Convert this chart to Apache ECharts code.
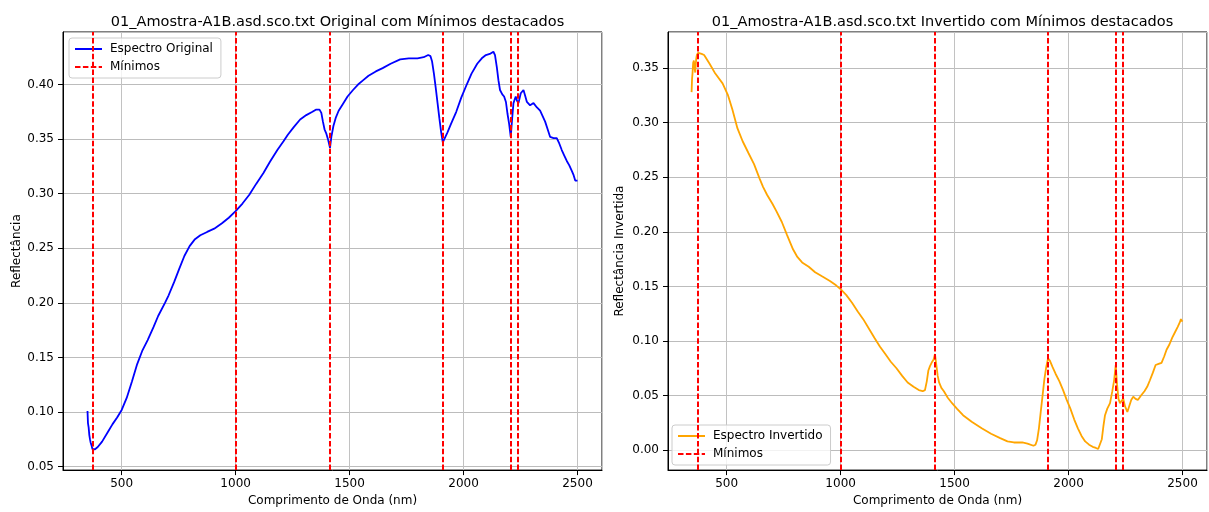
<!DOCTYPE html>
<html>
<head>
<meta charset="utf-8">
<script src="https://cdn.jsdelivr.net/npm/echarts@6/dist/echarts.min.js"></script>
<style>
  html, body { margin: 0; padding: 0; background: #fff; }
  #chart { width: 1209px; height: 512px; }
</style>
</head>
<body>
<div id="chart"></div>
<script>
// Sample spectrum: 01_Amostra-A1B.asd.sco.txt
const wavelengthOrig = [
  350, 352, 355, 358, 361, 364, 367, 372, 378, 383, 395, 414, 440, 460, 480, 500, 522, 545, 568, 590,
  614, 640, 660, 690, 706, 730, 752, 775, 798, 820, 845, 875, 906, 940, 970, 1000, 1030, 1060, 1090, 1122,
  1150, 1183, 1210, 1229, 1255, 1283, 1310, 1337, 1352, 1368, 1376, 1383, 1390, 1398, 1405, 1414, 1420, 1429, 1440, 1452,
  1470, 1491, 1515, 1537, 1560, 1583, 1615, 1645, 1680, 1722, 1760, 1798, 1825, 1845, 1855, 1862, 1870, 1878, 1886, 1894,
  1902, 1909, 1915, 1929, 1945, 1968, 1990, 2014, 2035, 2060, 2080, 2098, 2115, 2131, 2138, 2146, 2153, 2160, 2170, 2178,
  2186, 2193, 2200, 2207, 2213, 2219, 2229, 2235, 2241, 2251, 2263, 2270, 2278, 2292, 2307, 2322, 2336, 2347, 2358, 2369,
  2380, 2395, 2409, 2420, 2431, 2442, 2453, 2464, 2475, 2483, 2490, 2495, 2500
];
const reflectanceOrig = [
  0.101, 0.090, 0.086, 0.079, 0.075, 0.072, 0.070, 0.066, 0.067, 0.066, 0.068, 0.073, 0.082, 0.089, 0.095, 0.102, 0.113, 0.128, 0.144, 0.156,
  0.166, 0.178, 0.188, 0.200, 0.207, 0.219, 0.231, 0.243, 0.252, 0.258, 0.262, 0.265, 0.268, 0.273, 0.278, 0.284, 0.291, 0.299, 0.309, 0.319,
  0.329, 0.340, 0.348, 0.354, 0.361, 0.368, 0.372, 0.375, 0.377, 0.377, 0.374, 0.366, 0.359, 0.355, 0.350, 0.342, 0.352, 0.362, 0.370, 0.376,
  0.382, 0.389, 0.395, 0.400, 0.404, 0.408, 0.412, 0.415, 0.419, 0.423, 0.424, 0.424, 0.425, 0.427, 0.426, 0.421, 0.410, 0.397, 0.383, 0.369,
  0.356, 0.347, 0.348, 0.356, 0.364, 0.375, 0.388, 0.400, 0.410, 0.419, 0.424, 0.427, 0.428, 0.430, 0.427, 0.416, 0.404, 0.395, 0.391, 0.389,
  0.384, 0.373, 0.364, 0.352, 0.368, 0.383, 0.389, 0.385, 0.383, 0.392, 0.395, 0.390, 0.384, 0.381, 0.383, 0.379, 0.376, 0.371, 0.366, 0.359,
  0.352, 0.351, 0.351, 0.346, 0.340, 0.335, 0.330, 0.326, 0.321, 0.317, 0.312, 0.313, 0.312
];

// Inverted spectrum (maximum reflectance minus reflectance)
const wavelengthInv = [
  346, 348, 350, 353, 356, 359, 362, 366, 369, 375, 381, 390, 401, 425, 450, 482, 506, 525, 547, 570,
  596, 620, 644, 660, 677, 700, 718, 742, 765, 791, 810, 831, 860, 888, 920, 953, 980, 1002, 1025, 1050,
  1075, 1099, 1125, 1148, 1172, 1196, 1220, 1245, 1270, 1294, 1320, 1343, 1360, 1370, 1378, 1385, 1392, 1399, 1408, 1414,
  1420, 1426, 1432, 1442, 1453, 1470, 1489, 1510, 1537, 1575, 1619, 1660, 1700, 1732, 1760, 1797, 1820, 1846, 1855, 1862,
  1870, 1878, 1886, 1894, 1902, 1910, 1918, 1930, 1943, 1960, 1976, 1992, 2008, 2025, 2041, 2057, 2073, 2090, 2106, 2120,
  2130, 2137, 2146, 2153, 2160, 2170, 2182, 2192, 2200, 2207, 2213, 2219, 2226, 2232, 2240, 2248, 2258, 2265, 2275, 2284,
  2294, 2304, 2318, 2333, 2345, 2357, 2370, 2382, 2395, 2408, 2420, 2430, 2443, 2455, 2467, 2479, 2488, 2493, 2497, 2500
];
const reflectanceInv = [
  0.328, 0.340, 0.345, 0.355, 0.357, 0.350, 0.346, 0.358, 0.362, 0.364, 0.364, 0.363, 0.362, 0.354, 0.345, 0.336, 0.325, 0.312, 0.295, 0.283,
  0.272, 0.262, 0.249, 0.241, 0.234, 0.226, 0.219, 0.209, 0.197, 0.184, 0.177, 0.172, 0.168, 0.163, 0.159, 0.155, 0.151, 0.147, 0.142, 0.135,
  0.127, 0.120, 0.111, 0.103, 0.095, 0.088, 0.081, 0.075, 0.068, 0.062, 0.058, 0.055, 0.054, 0.055, 0.063, 0.073, 0.077, 0.080, 0.083, 0.088,
  0.078, 0.068, 0.062, 0.057, 0.054, 0.048, 0.043, 0.038, 0.032, 0.026, 0.020, 0.015, 0.011, 0.008, 0.007, 0.007, 0.006, 0.004, 0.005, 0.009,
  0.020, 0.035, 0.050, 0.065, 0.076, 0.084, 0.082, 0.076, 0.070, 0.063, 0.055, 0.046, 0.038, 0.028, 0.020, 0.013, 0.008, 0.005, 0.003, 0.002,
  0.001, 0.002, 0.010, 0.022, 0.032, 0.038, 0.043, 0.054, 0.064, 0.078, 0.060, 0.047, 0.043, 0.045, 0.047, 0.040, 0.035, 0.036, 0.046, 0.049,
  0.047, 0.046, 0.050, 0.054, 0.058, 0.064, 0.071, 0.078, 0.079, 0.080, 0.086, 0.092, 0.097, 0.103, 0.108, 0.113, 0.117, 0.120, 0.118, 0.119
];

// Wavelengths of the detected minima
const minimaWavelengths = [372, 1000, 1414, 1909, 2206, 2240];

const titles = [
  '01_Amostra-A1B.asd.sco.txt Original com Mínimos destacados',
  '01_Amostra-A1B.asd.sco.txt Invertido com Mínimos destacados'
];

const FONT = 'DejaVu Sans';
const pairs = (xs, ys) => xs.map((x, i) => [x, ys[i]]);
const dash = [5.5, 2.4];

function xAxisFor(gridIndex) {
  return {
    type: 'value', gridIndex, min: 242.5, max: 2607.5, splitNumber: 5,
    name: 'Comprimento de Onda (nm)', nameLocation: 'middle', nameGap: 22,
    nameTextStyle: { color: '#000', fontSize: 12, fontFamily: FONT },
    axisLine: { show: true, onZero: false, lineStyle: { color: '#000', width: 1 } },
    axisTick: { show: true, length: 5, lineStyle: { color: '#000', width: 1 } },
    axisLabel: { color: '#000', fontSize: 12, fontFamily: FONT, margin: 8,
                 showMinLabel: false, showMaxLabel: false, formatter: v => String(Math.round(v)) },
    splitLine: { show: true, lineStyle: { color: '#c2c2c2', width: 1 } }
  };
}
function yAxisFor(gridIndex, min, max, name, gap) {
  return {
    type: 'value', gridIndex, min, max, splitNumber: 8,
    name, nameLocation: 'middle', nameGap: gap, nameRotate: 90,
    nameTextStyle: { color: '#000', fontSize: 12, fontFamily: FONT },
    axisLine: { show: true, onZero: false, lineStyle: { color: '#000', width: 1 } },
    axisTick: { show: true, length: 5, lineStyle: { color: '#000', width: 1 } },
    axisLabel: { color: '#000', fontSize: 12, fontFamily: FONT, margin: 9,
                 showMinLabel: false, showMaxLabel: false, formatter: v => v.toFixed(2) },
    splitLine: { show: true, lineStyle: { color: '#bcbcbc', width: 1 } }
  };
}
function minimaSeries(axisIndex) {
  return {
    name: 'Mínimos', type: 'line', xAxisIndex: axisIndex, yAxisIndex: axisIndex,
    data: [], symbol: 'none', z: 5,
    lineStyle: { color: '#ff0000', type: dash, width: 2 },
    itemStyle: { color: '#ff0000' },
    markLine: {
      silent: true, symbol: 'none', animation: false,
      label: { show: false },
      lineStyle: { color: '#ff0000', type: dash, width: 2 },
      data: minimaWavelengths.map(w => ({ xAxis: w }))
    }
  };
}
function legendFor(names, pos) {
  return Object.assign({
    orient: 'vertical', data: names,
    itemWidth: 27, itemHeight: 12, itemGap: 6,
    padding: [5, 8, 5, 5],
    backgroundColor: 'rgba(255,255,255,0.8)',
    borderColor: '#cccccc', borderWidth: 1, borderRadius: 3,
    itemStyle: { opacity: 0 },
    textStyle: { color: '#000', fontSize: 12, fontFamily: FONT, padding: [0, 0, 0, 3] }
  }, pos);
}

const chart = echarts.init(document.getElementById('chart'), null, { renderer: 'canvas' });
chart.setOption({
  animation: false,
  backgroundColor: '#ffffff',
  textStyle: { fontFamily: FONT },
  title: [
    { text: titles[0], left: 332.5, top: 10, textAlign: 'center',
      textStyle: { color: '#000', fontSize: 14.5, fontWeight: 'normal', fontFamily: FONT } },
    { text: titles[1], left: 937.5, top: 10, textAlign: 'center',
      textStyle: { color: '#000', fontSize: 14.5, fontWeight: 'normal', fontFamily: FONT } }
  ],
  grid: [
    { left: 63, right: 607, top: 32, bottom: 40, show: true, borderColor: '#000', borderWidth: 1, backgroundColor: 'transparent' },
    { left: 668, right: 2, top: 32, bottom: 40, show: true, borderColor: '#000', borderWidth: 1, backgroundColor: 'transparent' }
  ],
  legend: [
    legendFor(['Espectro Original', 'Mínimos'], { left: 69, top: 38 }),
    legendFor(['Espectro Invertido', 'Mínimos'], { left: 672, bottom: 47 })
  ],
  xAxis: [xAxisFor(0), xAxisFor(1)],
  yAxis: [
    yAxisFor(0, 0.0469, 0.4481, 'Reflectância', 40),
    yAxisFor(1, -0.0183, 0.3831, 'Reflectância Invertida', 42)
  ],
  series: [
    { name: 'Espectro Original', type: 'line', xAxisIndex: 0, yAxisIndex: 0,
      data: pairs(wavelengthOrig, reflectanceOrig), symbol: 'none', showSymbol: false, z: 3,
      lineStyle: { color: '#0000ff', width: 1.8 }, itemStyle: { color: '#0000ff' } },
    minimaSeries(0),
    { name: 'Espectro Invertido', type: 'line', xAxisIndex: 1, yAxisIndex: 1,
      data: pairs(wavelengthInv, reflectanceInv), symbol: 'none', showSymbol: false, z: 3,
      lineStyle: { color: '#ffa500', width: 1.8 }, itemStyle: { color: '#ffa500' } },
    minimaSeries(1)
  ]
});
</script>
</body>
</html>
